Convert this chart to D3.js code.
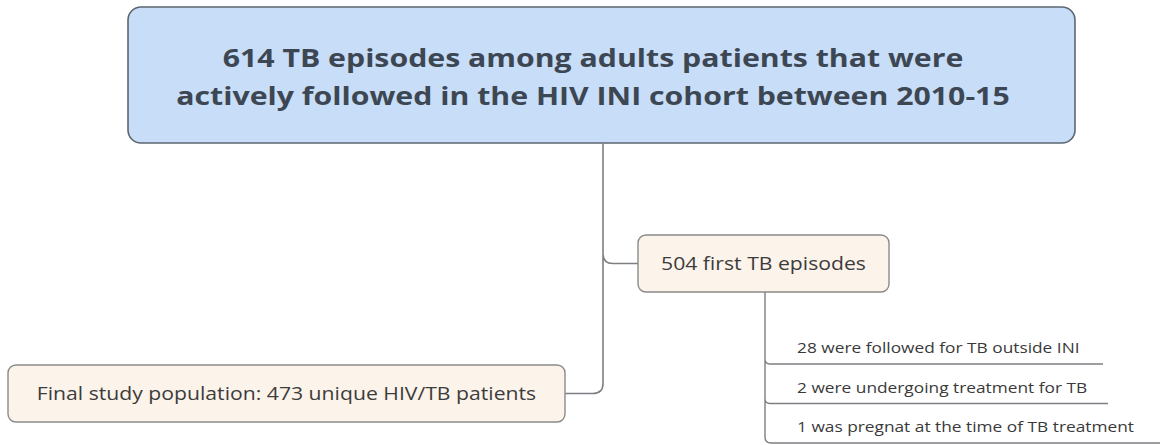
<!DOCTYPE html>
<html><head><meta charset="utf-8">
<script src="https://cdn.jsdelivr.net/npm/d3@7"></script>
<style>body{margin:0;background:#fff}svg{display:block}</style>
</head><body>
<svg id="c" width="1166" height="445"></svg>
<script>
const titleLines = ["614 TB episodes among adults patients that were",
                    "actively followed in the HIV INI cohort between 2010-15"];
const firstNode = "504 first TB episodes";
const finalNode = "Final study population: 473 unique HIV/TB patients";
const exclusions = ["28 were followed for TB outside INI",
                    "2 were undergoing treatment for TB",
                    "1 was pregnat at the time of TB treatment"];

const svg = d3.select("#c");
const lineCol = "#7d7f82";
const stretch = 1.21;
function widen(sel){
  sel.each(function(){
    const L = this.getComputedTextLength();
    d3.select(this).attr("textLength", L*stretch).attr("lengthAdjust","spacingAndGlyphs");
  });
}

// Root box
const root = {x:128, y:7, w:947, h:136};
svg.append("rect").attr("x",root.x).attr("y",root.y).attr("width",root.w).attr("height",root.h)
  .attr("rx",13).attr("fill","#c7ddf8").attr("stroke","#5d6670").attr("stroke-width",1.6);
svg.append("g").selectAll("text").data(titleLines).join("text")
  .attr("x",593).attr("y",(d,i)=>67+i*37.5)
  .attr("text-anchor","middle").attr("font-family","Open Sans").attr("font-weight","bold")
  .attr("font-size",25).attr("fill","#3d4753").text(d=>d).call(widen);

// connectors from root
const spineX = 603, r = 10;
const n1 = {x:638, y:235, w:251, h:57};
const n2 = {x:8, y:365, w:557, h:57};
const n1c = n1.y + n1.h/2, n2c = n2.y + n2.h/2;
const path = d3.path();
path.moveTo(spineX, root.y+root.h); path.lineTo(spineX, n1c-r);
path.quadraticCurveTo(spineX, n1c, spineX+r, n1c); path.lineTo(n1.x, n1c);
path.moveTo(spineX, n1c-r); path.lineTo(spineX, n2c-r);
path.quadraticCurveTo(spineX, n2c, spineX-r, n2c); path.lineTo(n2.x+n2.w, n2c);
svg.append("path").attr("d",path.toString()).attr("fill","none").attr("stroke",lineCol).attr("stroke-width",1.6);

// node boxes
[[n1, firstNode],[n2, finalNode]].forEach(([n,t])=>{
  svg.append("rect").attr("x",n.x).attr("y",n.y).attr("width",n.w).attr("height",n.h)
    .attr("rx",8).attr("fill","#fcf3ea").attr("stroke","#8b8b8b").attr("stroke-width",1.4);
  svg.append("text").attr("x",n.x+n.w/2).attr("y",n.y+n.h/2+6).attr("text-anchor","middle")
    .attr("font-family","Open Sans").attr("font-size",17.5).attr("fill","#3c3c3c").text(t).call(widen);
});

// exclusion list
const bx = 765;
const y = d3.scalePoint().domain(exclusions).range([364, 443]);
const ends = [1103, 1108, 1160];
const p2 = d3.path();
p2.moveTo(bx, n1.y+n1.h); p2.lineTo(bx, 443-6);
p2.quadraticCurveTo(bx, 443, bx+6, 443); p2.lineTo(ends[2], 443);
exclusions.slice(0,2).forEach((d,i)=>{
  const yy = y(d);
  p2.moveTo(bx, yy-5); p2.quadraticCurveTo(bx, yy, bx+5, yy); p2.lineTo(ends[i], yy);
});
svg.append("path").attr("d",p2.toString()).attr("fill","none").attr("stroke",lineCol).attr("stroke-width",1.4);
svg.append("g").selectAll("text").data(exclusions).join("text")
  .attr("x",797).attr("y",d=>y(d)-11).attr("font-family","Open Sans").attr("font-size",14.3)
  .attr("fill","#3a3a3a").text(d=>d).call(widen);
</script>
</body></html>
